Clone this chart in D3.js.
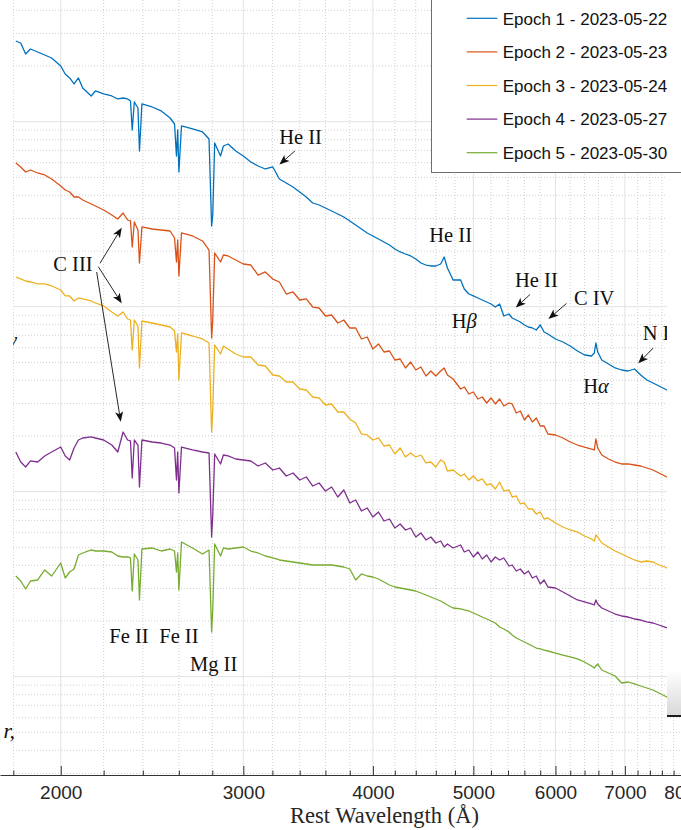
<!DOCTYPE html>
<html>
<head>
<meta charset="utf-8">
<script src="https://cdn.jsdelivr.net/npm/d3@7"></script>
<style>
  html, body { margin: 0; padding: 0; background: #fff; }
  svg { display: block; }
</style>
</head>
<body>
<svg id="chart" width="681" height="830"></svg>
<script>
// Rest-frame wavelength grid (Å) shared by all epochs
const wavelength = [1810,1830,1850,1870,1900,1930,1960,2000,2020,2040,2060,2080,2100,2140,2160,2200,2240,2270,2297,2320,2335,2344,2355,2374,2382,2395,2450,2500,2550,2575,2586,2593,2600,2615,2680,2740,2780,2796,2803,2815,2852,2870,2900,2950,3000,3050,3100,3150,3203,3250,3300,3350,3400,3450,3500,3550,3600,3650,3700,3750,3800,3850,3900,3950,4000,4050,4100,4150,4200,4250,4300,4350,4400,4450,4500,4550,4600,4650,4686,4720,4780,4861,4900,4950,5000,5050,5100,5150,5200,5250,5300,5350,5411,5450,5500,5550,5600,5650,5700,5750,5801,5850,5900,6000,6100,6200,6300,6400,6500,6540,6563,6590,6650,6750,6850,6950,7050,7150,7250,7350,7450,7550,7650,7750,7900];

// Offset flux density for each epoch (arbitrary units, log axis)
const fluxEpoch1 = [273.1,266.3,232.3,247.2,238.1,229.4,221.0,200.0,181.1,172.3,
 159.9,172.3,152.1,137.7,146.6,141.2,137.7,132.7,134.3,132.7,
 129.4,90.19,127.8,118.6,69.44,124.7,120.1,114.3,104.7,97.18,
 65.26,90.19,53.47,94.80,91.32,87.97,80.63,27.31,31.31,76.72,
 65.26,73.90,75.77,69.44,65.26,60.56,57.62,55.51,56.91,49.01,
 46.63,44.37,41.69,39.17,36.35,35.46,34.16,32.91,31.70,30.54,
 29.06,27.65,26.30,25.03,24.11,23.23,22.37,21.55,20.51,19.76,
 19.27,18.80,18.11,17.23,16.80,16.60,16.60,17.01,18.56,16.19,
 13.94,13.94,12.47,11.71,11.43,11.14,10.87,10.60,10.34,9.963,
 10.34,8.907,9.132,8.688,8.475,8.267,7.963,7.767,7.672,7.483,
 7.963,7.299,7.120,6.690,6.445,6.132,5.762,5.482,5.414,5.620,
 6.365,5.691,5.151,4.901,4.663,4.548,4.492,4.605,4.274,4.016,
 3.869,3.727,3.591,3.459,3.291];

const fluxEpoch2 = [59.81,56.91,53.47,54.82,52.81,51.51,49.01,44.92,42.74,41.69,
 39.17,39.17,37.74,35.91,35.02,33.32,31.31,29.79,32.10,29.42,
 29.06,21.02,28.70,25.98,17.23,26.97,26.30,25.98,25.66,23.52,
 17.44,22.94,14.66,25.03,24.11,22.66,20.25,6.774,8.475,19.51,
 17.44,19.03,18.80,17.88,17.01,16.80,14.83,15.41,14.11,13.60,
 11.71,12.01,10.87,11.01,9.959,9.841,8.907,9.019,8.164,8.475,
 7.672,7.672,6.689,6.859,5.907,6.287,5.690,5.762,5.151,5.216,
 4.663,5.025,4.548,4.721,4.221,4.492,4.221,4.492,4.663,4.274,
 4.066,3.591,3.682,3.373,3.459,3.170,3.250,3.016,3.210,2.979,
 3.170,2.905,3.016,2.979,2.664,2.730,2.441,2.598,2.381,2.503,
 2.266,2.266,2.051,2.025,1.951,1.856,1.788,1.744,1.701,1.681,
 1.927,1.723,1.579,1.502,1.447,1.412,1.412,1.394,1.377,1.343,
 1.310,1.262,1.216,1.171,1.114];

const fluxEpoch3 = [14.47,14.12,13.77,13.60,13.27,13.27,12.94,12.31,11.43,11.43,
 10.74,11.14,11.01,10.74,10.47,10.09,9.362,8.907,9.362,8.581,
 8.475,5.834,8.475,7.865,4.663,8.370,8.164,7.963,7.767,7.390,
 5.691,7.120,4.016,7.209,6.944,6.690,6.365,2.102,2.765,6.209,
 5.551,6.132,5.907,5.551,5.347,5.347,4.841,4.781,4.274,4.221,
 3.917,3.918,3.590,3.546,3.250,3.210,2.942,2.979,2.696,2.696,
 2.472,2.352,2.051,2.026,1.903,1.952,1.766,1.788,1.599,1.723,
 1.540,1.619,1.540,1.579,1.430,1.447,1.360,1.484,1.447,1.294,
 1.310,1.216,1.247,1.157,1.216,1.143,1.172,1.087,1.101,1.034,
 1.128,1.009,1.021,0.9362,0.9480,0.8581,0.8689,0.8064,0.8063,0.7576,
 0.7768,0.7119,0.7209,0.6774,0.6445,0.6209,0.6056,0.5762,0.5551,0.5414,
 0.5834,0.5691,0.5281,0.5025,0.4780,0.4605,0.4437,0.4274,0.4169,0.4221,
 0.4169,0.4016,0.3917,0.3774,0.3591];

const fluxEpoch4 = [1.639,1.447,1.360,1.466,1.447,1.560,1.639,1.744,1.560,1.484,
 1.723,1.903,1.951,1.976,1.951,1.903,1.788,1.639,2.102,1.903,
 1.880,1.186,1.903,1.788,1.060,1.903,1.856,1.833,1.788,1.723,
 1.157,1.639,0.9840,1.744,1.681,1.639,1.619,0.5691,0.7483,1.599,
 1.412,1.579,1.560,1.502,1.484,1.465,1.377,1.429,1.310,1.343,
 1.216,1.262,1.157,1.201,1.073,1.114,1.008,1.060,0.9362,1.021,
 0.8688,0.9019,0.7865,0.8165,0.7299,0.7768,0.6944,0.7120,0.6365,0.6690,
 0.6208,0.6365,0.5691,0.5982,0.5482,0.5691,0.5281,0.5414,0.5025,0.5216,
 0.4963,0.5152,0.4721,0.4841,0.4436,0.4721,0.4328,0.4549,0.4169,0.4437,
 0.4274,0.4382,0.3966,0.4016,0.3727,0.3821,0.3590,0.3727,0.3416,0.3502,
 0.3170,0.3332,0.3054,0.3016,0.2870,0.2731,0.2598,0.2534,0.2472,0.2441,
 0.2598,0.2472,0.2352,0.2266,0.2182,0.2129,0.2102,0.2051,0.2025,0.1976,
 0.1951,0.1903,0.1856,0.1811,0.1744];

const fluxEpoch5 = [0.3502,0.3291,0.2979,0.3291,0.3332,0.3774,0.3502,0.4117,0.3416,0.3681,
 0.3821,0.4548,0.4663,0.4841,0.4780,0.4780,0.4722,0.4492,0.4437,0.4437,
 0.4382,0.2906,0.4605,0.4274,0.2598,0.4901,0.4963,0.4780,0.4901,0.4780,
 0.3681,0.4663,0.2942,0.5347,0.4963,0.4605,0.4841,0.1744,0.2294,0.5216,
 0.4492,0.4963,0.4901,0.4963,0.5025,0.4780,0.4663,0.4492,0.4382,0.4274,
 0.4221,0.4169,0.4117,0.4066,0.4016,0.4016,0.4016,0.4016,0.3966,0.3917,
 0.3821,0.3332,0.3591,0.3502,0.3459,0.3374,0.3250,0.3131,0.3054,0.3016,
 0.2979,0.2942,0.2906,0.2834,0.2765,0.2697,0.2630,0.2566,0.2503,0.2441,
 0.2352,0.2323,0.2294,0.2266,0.2210,0.2156,0.2102,0.2051,0.2000,0.1951,
 0.1856,0.1811,0.1744,0.1681,0.1619,0.1579,0.1540,0.1502,0.1466,0.1429,
 0.1412,0.1394,0.1377,0.1343,0.1310,0.1278,0.1247,0.1201,0.1143,0.1114,
 0.1143,0.1171,0.1087,0.1047,0.1009,0.09247,0.09362,0.09132,0.08907,0.08688,
 0.08475,0.08164,0.07865,0.07577,0.07209];

const epochLabels = ["Epoch 1 - 2023-05-22", "Epoch 2 - 2023-05-23", "Epoch 3 - 2023-05-24",
                     "Epoch 4 - 2023-05-27", "Epoch 5 - 2023-05-30"];
const epochColors = ["#0072BD", "#D95319", "#EDB120", "#7E2F8E", "#77AC30"];

// Axis ticks (Å)
const majorTicks = [2000, 3000, 4000, 5000, 6000, 7000, 8000];
const minorTicks = d3.range(1800, 8000, 200).filter(v => v % 1000 !== 0);

// Line identifications: label anchor in (wavelength, flux)
const lineLabels = [
  { text: "He II", w: 3249, f: 75.8 },
  { text: "He II", w: 4534, f: 22.46 },
  { text: "H", greek: "β", w: 4766, f: 7.643 },
  { text: "He II", w: 5485, f: 12.73 },
  { text: "C IV",  w: 6252, f: 10.21 },
  { text: "N II",  w: 7282, f: 6.607 },
  { text: "H", greek: "α", w: 6382, f: 3.429 },
  { text: "C III", w: 1967, f: 15.65 },
  { text: "Fe II", w: 2228, f: 0.1516 },
  { text: "Fe II", w: 2489, f: 0.1516 },
  { text: "Mg II", w: 2665, f: 0.1073 }
];
// Pointer arrows: tail (w0,f0) to head (w1,f1)
const lineArrows = [
  { w0: 3364, f0: 69.44, w1: 3250, f1: 58.70 },
  { w0: 5670, f0: 11.64, w1: 5494, f1: 9.901 },
  { w0: 6149, f0: 10.41, w1: 5907, f1: 8.581 },
  { w0: 7455, f0: 5.981, w1: 7211, f1: 4.944 },
  { w0: 2182, f0: 17.16, w1: 2290, f1: 26.73 },
  { w0: 2174, f0: 16.45, w1: 2290, f1: 10.43 },
  { w0: 2166, f0: 15.40, w1: 2285, f1: 2.390 }
];

const fluxSeries = [fluxEpoch1, fluxEpoch2, fluxEpoch3, fluxEpoch4, fluxEpoch5];

// ---------- layout ----------
const width = 681, height = 830;
const axisY = 775, plotLeft = 13;
const sansFont = "'Liberation Sans', Arial, Helvetica, sans-serif";
const serifFont = "'Liberation Serif', 'Times New Roman', serif";

const x = d3.scaleLog().domain([1747.6, 7929]).range([0, width]);
const y = d3.scaleLog().domain([0.02942, 454.8]).range([axisY, 0]);

const svg = d3.select("#chart");
svg.append("rect").attr("width", width).attr("height", height).attr("fill", "#fff");

const defs = svg.append("defs");
defs.append("clipPath").attr("id", "plotClip")
  .append("rect").attr("x", plotLeft).attr("y", 0)
  .attr("width", width - plotLeft).attr("height", axisY);
const shade = defs.append("linearGradient").attr("id", "panelShade")
  .attr("x1", 0).attr("y1", 0).attr("x2", 0).attr("y2", 1);
shade.append("stop").attr("offset", "0%").attr("stop-color", "#ffffff");
shade.append("stop").attr("offset", "100%").attr("stop-color", "#d9d9d9");

// ---------- grid ----------
const grid = svg.append("g").attr("clip-path", "url(#plotClip)");
const yTicks = y.ticks();
const isDecade = v => Math.abs(Math.log10(v) - Math.round(Math.log10(v))) < 1e-6;

grid.selectAll("line.vminor").data(minorTicks).join("line")
  .attr("x1", d => x(d)).attr("x2", d => x(d)).attr("y1", 0).attr("y2", axisY)
  .attr("stroke", "#cfcfcf").attr("stroke-width", 1).attr("stroke-dasharray", "1,2");
grid.selectAll("line.hminor").data(yTicks.filter(v => !isDecade(v))).join("line")
  .attr("x1", plotLeft).attr("x2", width).attr("y1", d => y(d)).attr("y2", d => y(d))
  .attr("stroke", "#cfcfcf").attr("stroke-width", 1).attr("stroke-dasharray", "1,2");
grid.selectAll("line.vmajor").data(majorTicks).join("line")
  .attr("x1", d => x(d)).attr("x2", d => x(d)).attr("y1", 0).attr("y2", axisY)
  .attr("stroke", "#e2e2e2").attr("stroke-width", 1);
grid.selectAll("line.hmajor").data(yTicks.filter(isDecade)).join("line")
  .attr("x1", plotLeft).attr("x2", width).attr("y1", d => y(d)).attr("y2", d => y(d))
  .attr("stroke", "#e2e2e2").attr("stroke-width", 1);

// ---------- spectra ----------
const line = d3.line().x(d => x(d[0])).y(d => y(d[1]));
const spectra = svg.append("g").attr("clip-path", "url(#plotClip)");
fluxSeries.forEach((flux, i) => {
  spectra.append("path")
    .datum(d3.zip(wavelength, flux))
    .attr("d", line)
    .attr("fill", "none")
    .attr("stroke", epochColors[i])
    .attr("stroke-width", 1.3)
    .attr("stroke-linejoin", "round");
});

// ---------- line identifications ----------
const notes = svg.append("g");
lineArrows.forEach(a => {
  const x0 = x(a.w0), y0 = y(a.f0), x1 = x(a.w1), y1 = y(a.f1);
  const ang = Math.atan2(y1 - y0, x1 - x0);
  const len = 10, half = 4, notch = 7.5;
  const ux = Math.cos(ang), uy = Math.sin(ang);
  const bx = x1 - ux * len, by = y1 - uy * len;
  const nx = x1 - ux * notch, ny = y1 - uy * notch;
  notes.append("line")
    .attr("x1", x0).attr("y1", y0).attr("x2", nx).attr("y2", ny)
    .attr("stroke", "#111").attr("stroke-width", 0.9);
  notes.append("path")
    .attr("d", `M${x1},${y1}L${bx - uy * half},${by + ux * half}L${nx},${ny}L${bx + uy * half},${by - ux * half}Z`)
    .attr("fill", "#111");
});
lineLabels.forEach(l => {
  const t = notes.append("text")
    .attr("x", x(l.w)).attr("y", y(l.f))
    .attr("font-family", serifFont).attr("font-size", 20.5)
    .attr("fill", "#111")
    .text(l.text);
  if (l.greek) t.append("tspan").attr("font-style", "italic").text(l.greek);
});

// ---------- legend ----------
const legend = svg.append("g");
legend.append("rect")
  .attr("x", 431.5).attr("y", -2).attr("width", 270).attr("height", 174.5)
  .attr("fill", "#fff").attr("stroke", "#6e6e6e").attr("stroke-width", 1);
epochLabels.forEach((lab, i) => {
  const ly = 18.3 + i * 33.6;
  legend.append("line")
    .attr("x1", 466.7).attr("x2", 497.3).attr("y1", ly).attr("y2", ly)
    .attr("stroke", epochColors[i]).attr("stroke-width", 1.2);
  legend.append("text")
    .attr("x", 502.7).attr("y", ly + 6.3)
    .attr("font-family", sansFont).attr("font-size", 17)
    .attr("fill", "#111")
    .text(lab);
});

// ---------- overlapping side panels ----------
svg.append("rect").attr("x", 667).attr("y", 173).attr("width", 20).attr("height", 543).attr("fill", "#fff");
svg.append("rect").attr("x", 667).attr("y", 670).attr("width", 20).attr("height", 45).attr("fill", "url(#panelShade)");
svg.append("line").attr("x1", 667).attr("x2", 681).attr("y1", 716).attr("y2", 716)
  .attr("stroke", "#1c1c1c").attr("stroke-width", 2);

svg.append("text").attr("x", 17).attr("y", 347).attr("text-anchor", "end")
  .attr("font-family", serifFont).attr("font-style", "italic").attr("font-size", 21)
  .attr("fill", "#111").text("ν");
svg.append("rect").attr("x", 0).attr("y", 0).attr("width", plotLeft).attr("height", axisY - 1).attr("fill", "#fff");
svg.append("text").attr("x", 15).attr("y", 738).attr("text-anchor", "end")
  .attr("font-family", serifFont).attr("font-style", "italic").attr("font-size", 22)
  .attr("fill", "#111").text("r,");

// ---------- x axis ----------
const minorAxis = d3.axisBottom(x).tickValues(minorTicks).tickSizeInner(-4.5).tickSizeOuter(0).tickFormat("");
const majorAxis = d3.axisBottom(x).tickValues(majorTicks).tickSizeInner(-9).tickSizeOuter(0)
  .tickPadding(10.5).tickFormat(d3.format("d"));

const gMinor = svg.append("g").attr("transform", `translate(0,${axisY})`).call(minorAxis);
gMinor.select(".domain").remove();
gMinor.selectAll(".tick line").attr("stroke", "#333");

const gMajor = svg.append("g").attr("transform", `translate(0,${axisY})`).call(majorAxis);
gMajor.select(".domain").attr("stroke", "#333").attr("stroke-width", 1);
gMajor.selectAll(".tick line").attr("stroke", "#333");
gMajor.selectAll(".tick text")
  .attr("font-family", sansFont).attr("font-size", 19).attr("fill", "#262626");

svg.append("text")
  .attr("x", 384.5).attr("y", 823).attr("text-anchor", "middle")
  .attr("font-family", serifFont).attr("font-size", 22.5).attr("fill", "#262626")
  .text("Rest Wavelength (Å)");
</script>
</body>
</html>
